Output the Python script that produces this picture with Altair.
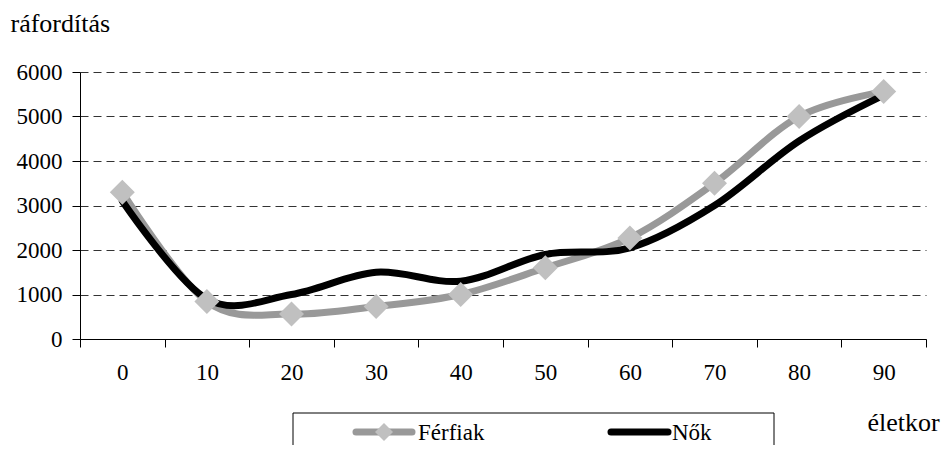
import altair as alt
import pandas as pd

ages = ["0", "10", "20", "30", "40", "50", "60", "70", "80", "90"]
ferfiak = [3300, 840, 560, 730, 1000, 1600, 2270, 3500, 5000, 5560]
nok = [3100, 900, 1000, 1500, 1300, 1900, 2050, 3000, 4450, 5480]
series_names = ["Férfiak", "Nők"]
y_ticks = [0, 1000, 2000, 3000, 4000, 5000, 6000]

FONT = "Liberation Serif"
FS = 23
TFS = 26

men_df = pd.DataFrame({"age": ages, "value": ferfiak, "series": series_names[0]})
women_df = pd.DataFrame({"age": ages, "value": nok, "series": series_names[1]})

x_enc = alt.X(
    "age:O",
    sort=ages,
    scale=alt.Scale(type="band", paddingInner=0, paddingOuter=0),
    axis=alt.Axis(
        title="életkor",
        titleX=787,
        titleY=91,
        titleAlign="left",
        titleBaseline="alphabetic",
        titleFont=FONT,
        titleFontSize=TFS,
        titleFontWeight="normal",
        titleColor="black",
        labelAngle=0,
        labelFont=FONT,
        labelFontSize=FS,
        labelColor="black",
        labelPadding=14,
        tickBand="extent",
        tickSize=8,
        tickColor="black",
        domainColor="black",
        grid=False,
    ),
)
y_enc = alt.Y(
    "value:Q",
    scale=alt.Scale(domain=[0, 6000], nice=False),
    axis=alt.Axis(
        values=y_ticks,
        format="d",
        title="ráfordítás",
        titleAngle=0,
        titleX=-70,
        titleY=-41,
        titleAlign="left",
        titleBaseline="alphabetic",
        titleFont=FONT,
        titleFontSize=TFS,
        titleFontWeight="normal",
        titleColor="black",
        labelFont=FONT,
        labelFontSize=FS,
        labelColor="black",
        labelPadding=10,
        tickSize=8,
        tickColor="black",
        domainColor="black",
        grid=True,
        gridDash=[8, 5],
        gridColor="#333333",
        gridWidth=1,
    ),
)

men_line = alt.Chart(men_df).mark_line(
    interpolate="cardinal", color="#999999", strokeWidth=7, strokeCap="round"
).encode(x=x_enc, y=y_enc)
women_line = alt.Chart(women_df).mark_line(
    interpolate="cardinal", color="black", strokeWidth=7, strokeCap="round"
).encode(x="age:O", y="value:Q")
men_pts = alt.Chart(men_df).mark_point(
    shape="diamond", filled=True, size=625, color="#c0c0c0", opacity=1
).encode(x="age:O", y="value:Q")

# legend (decorative)
leg_one = pd.DataFrame({"label": ["box"]})
leg_box = alt.Chart(leg_one).mark_rect(
    fill="white", stroke="black", strokeWidth=1
).encode(x=alt.value(213), x2=alt.value(694), y=alt.value(341), y2=alt.value(420))
men_leg_line = alt.Chart(leg_one).mark_rule(
    color="#999999", strokeWidth=7, strokeCap="round"
).encode(x=alt.value(276), x2=alt.value(332), y=alt.value(360))
men_leg_pt = alt.Chart(leg_one).mark_point(
    shape="diamond", filled=True, size=324, color="#c0c0c0", opacity=1
).encode(x=alt.value(304), y=alt.value(360))
women_leg_line = alt.Chart(leg_one).mark_rule(
    color="black", strokeWidth=7, strokeCap="round"
).encode(x=alt.value(531), x2=alt.value(588), y=alt.value(360))
men_leg_txt = alt.Chart(pd.DataFrame({"label": [series_names[0]]})).mark_text(
    align="left", baseline="alphabetic", font=FONT, fontSize=FS, color="black"
).encode(x=alt.value(338), y=alt.value(368), text="label:N")
women_leg_txt = alt.Chart(pd.DataFrame({"label": [series_names[1]]})).mark_text(
    align="left", baseline="alphabetic", font=FONT, fontSize=FS, color="black"
).encode(x=alt.value(592), y=alt.value(368), text="label:N")

chart = (
    alt.layer(
        men_line, women_line, men_pts,
        leg_box, men_leg_line, men_leg_pt, women_leg_line, men_leg_txt, women_leg_txt,
    )
    .properties(
        width=846,
        height=267,
        padding={"left": 72, "top": 64, "right": 18, "bottom": 106},
        autosize=alt.AutoSizeParams(type="none"),
        background="white",
    )
    .configure_view(stroke=None)
)

chart.save("out.html", embed_options={"renderer": "svg", "actions": False})
